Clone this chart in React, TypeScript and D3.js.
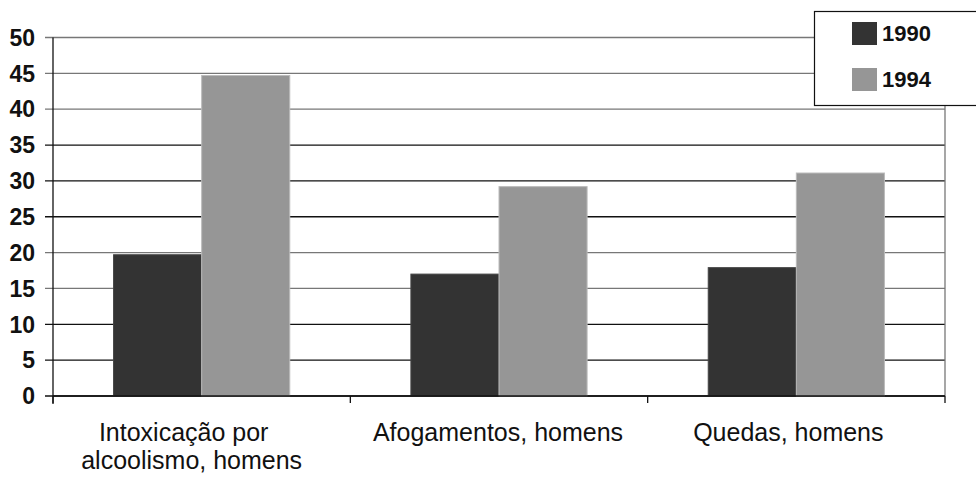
import React, { useEffect, useRef } from 'react';
import * as d3 from 'd3';

const categories = ['Intoxicação por\nalcoolismo, homens', 'Afogamentos, homens', 'Quedas, homens'];
const series = ['1990', '1994'];
const values1990 = [19.7, 17.0, 17.9];
const values1994 = [44.7, 29.2, 31.1];
const yTicks = [0, 5, 10, 15, 20, 25, 30, 35, 40, 45, 50];

const App: React.FC = () => {
    const svgRef = useRef<SVGSVGElement>(null);

    const width = 976;
    const height = 477;

    useEffect(() => {
        if (!svgRef.current) return;
        const svg = d3.select(svgRef.current);
        svg.selectAll('*').remove();

        const left = 53;
        const right = 945;
        const top = 37.5;
        const bottom = 396;

        const x0 = d3.scaleBand<string>()
            .domain(categories)
            .range([left, right]);

        const bandInner = 176 / 297;
        const x1 = d3.scaleBand<string>()
            .domain(series)
            .range([0, x0.bandwidth() * bandInner]);
        const offset = (x0.bandwidth() - x0.bandwidth() * bandInner) / 2;

        const y = d3.scaleLinear().domain([0, 50]).range([bottom, top]);

        const color = d3.scaleOrdinal<string, string>()
            .domain(series)
            .range(['#333333', '#969696']);

        // gridlines with tick stubs
        svg.append('g')
            .selectAll('line')
            .data(yTicks)
            .join('line')
            .attr('x1', left - 8)
            .attr('x2', right)
            .attr('y1', d => y(d))
            .attr('y2', d => y(d))
            .attr('stroke', d => ([50, 45, 40, 20, 15].includes(d) ? '#777' : '#111'))
            .attr('stroke-width', 1.3);

        // y tick labels
        svg.append('g')
            .selectAll('text')
            .data(yTicks)
            .join('text')
            .attr('x', 35)
            .attr('y', d => y(d))
            .attr('dy', '0.36em')
            .attr('text-anchor', 'end')
            .attr('font-family', 'Liberation Sans, Arial, sans-serif')
            .attr('font-weight', 'bold')
            .attr('font-size', 23)
            .attr('fill', '#111')
            .text(d => d);

        // right border of plot area
        svg.append('line')
            .attr('x1', right).attr('x2', right)
            .attr('y1', top).attr('y2', bottom)
            .attr('stroke', '#777').attr('stroke-width', 1.3);

        // bars
        const data = categories.map((c, i) => ({ c, vals: [values1990[i], values1994[i]] }));
        const groups = svg.append('g')
            .selectAll('g')
            .data(data)
            .join('g')
            .attr('transform', d => `translate(${(x0(d.c) ?? 0) + offset},0)`);

        groups.selectAll('rect')
            .data(d => d.vals.map((v, i) => ({ key: series[i], v })))
            .join('rect')
            .attr('x', d => x1(d.key) ?? 0)
            .attr('y', d => y(d.v))
            .attr('width', x1.bandwidth())
            .attr('height', d => bottom - y(d.v))
            .attr('fill', d => color(d.key))
            .attr('stroke', d => (d.key === '1994' ? '#bbb' : '#444'))
            .attr('stroke-width', 1);

        // axes lines
        svg.append('line')
            .attr('x1', left).attr('x2', left)
            .attr('y1', top).attr('y2', bottom + 8)
            .attr('stroke', '#111').attr('stroke-width', 1.3);
        svg.append('line')
            .attr('x1', left).attr('x2', right)
            .attr('y1', bottom).attr('y2', bottom)
            .attr('stroke', '#111').attr('stroke-width', 1.3);

        // category ticks
        const catTicks = categories.map(c => x0(c) ?? 0).concat([right]);
        svg.append('g')
            .selectAll('line')
            .data(catTicks)
            .join('line')
            .attr('x1', d => d).attr('x2', d => d)
            .attr('y1', bottom).attr('y2', bottom + 7)
            .attr('stroke', '#111').attr('stroke-width', 1.3);

        // category labels (centres nudged as in the original)
        const labelShift = [[-18, -10], [-1], [-8]];
        svg.append('g')
            .selectAll('text')
            .data(categories)
            .join('text')
            .attr('y', 441)
            .attr('text-anchor', 'middle')
            .attr('font-family', 'Liberation Sans, Arial, sans-serif')
            .attr('font-size', 25)
            .attr('fill', '#111')
            .each(function (d, ci) {
                const cx = (x0(d) ?? 0) + x0.bandwidth() / 2;
                d3.select(this).selectAll('tspan')
                    .data(d.split('\n'))
                    .join('tspan')
                    .attr('x', (l, i) => cx + labelShift[ci][i])
                    .attr('dy', (l, i) => (i === 0 ? 0 : 28))
                    .text(l => l);
            });

        // legend
        const legend = svg.append('g');
        legend.append('rect')
            .attr('x', 814.5).attr('y', 11.5)
            .attr('width', 170).attr('height', 94)
            .attr('fill', '#fff')
            .attr('stroke', '#111').attr('stroke-width', 1.2);
        series.forEach((s, i) => {
            legend.append('rect')
                .attr('x', 852).attr('y', 22 + i * 46)
                .attr('width', 25).attr('height', 23)
                .attr('fill', color(s));
            legend.append('text')
                .attr('x', 882).attr('y', 41 + i * 46)
                .attr('font-family', 'Liberation Sans, Arial, sans-serif')
                .attr('font-weight', 'bold')
                .attr('font-size', 22)
                .attr('fill', '#111')
                .text(s);
        });
    }, []);

    return (
        <svg ref={svgRef} width={width} height={height} style={{ position: 'absolute', left: 0, top: 0 }}></svg>
    );
};

export default App;
